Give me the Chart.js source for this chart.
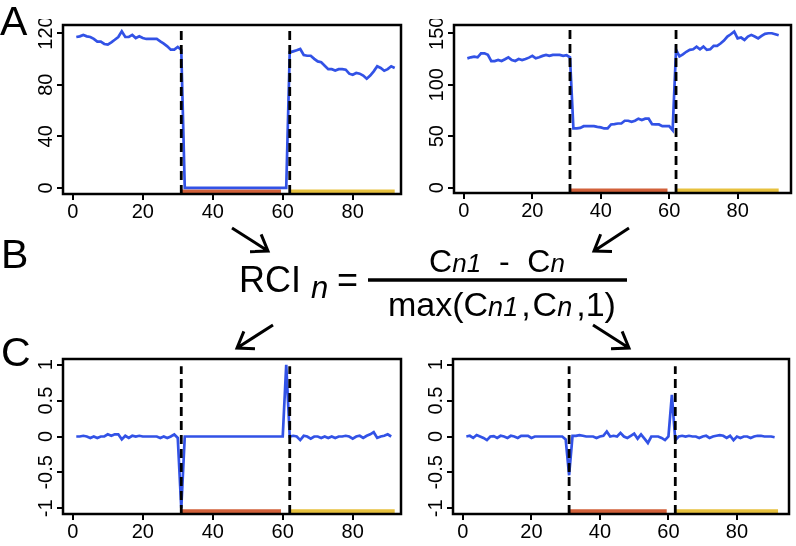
<!DOCTYPE html>
<html>
<head>
<meta charset="utf-8">
<script src="https://cdn.jsdelivr.net/npm/chart.js@4.4.0/dist/chart.umd.min.js"></script>
<style>
  html, body { margin: 0; padding: 0; background: #fff; }
  #page { position: relative; width: 796px; height: 546px; overflow: hidden; }
  canvas { position: absolute; }
  svg { position: absolute; left: 0; top: 0; }
  svg text { font-family: "Liberation Sans", Arial, sans-serif; fill: #000; }
</style>
</head>
<body>
<div id="page">
  <canvas id="aLeft"></canvas>
  <canvas id="aRight"></canvas>
  <canvas id="cLeft"></canvas>
  <canvas id="cRight"></canvas>
  <svg id="deco" width="796" height="546"></svg>
</div>
<script>
// ---- data ----
var days92 = Array.from({ length: 92 }, function (_, i) { return i + 1; });
var days91 = days92.slice(0, 91);

// A, left: counts per day
var countLeft = [
  116.9, 117.4, 118.5, 117.4, 116.9, 115.4, 113.3, 113.3, 111.5, 111, 112.8, 114.8, 116.9, 121.3, 116.9, 116.9,
  118.5, 116.1, 117.4, 116.1, 115.4, 115.4, 115.4, 115.4, 113.5, 111.7, 109.7, 107.1, 107.1, 109.2, 107,
  0, 0, 0, 0, 0, 0, 0, 0, 0, 0, 0, 0, 0, 0, 0, 0, 0, 0, 0, 0, 0, 0, 0, 0, 0, 0, 0, 0, 0, 0,
  105, 105.8, 106.6, 107.6, 103, 102.4, 102.4, 100, 98, 97.3, 94.7, 92, 92, 91, 92, 92,
  91.6, 88.5, 87.7, 89, 88.5, 87, 84.6, 87, 90.3, 94.2, 92.9, 90.8, 92, 94.2, 92.9
];
// A, right
var countRight = [
  125.6, 126.6, 127.3, 126.6, 130.5, 130.5, 129, 123, 123, 124, 123, 124.7, 126.6, 124, 123, 125,
  124, 125, 126.3, 128, 125.6, 126.6, 128, 129, 128, 129, 129, 129, 128, 128.6, 126.6,
  57.5, 57.5, 58, 59.7, 59.7, 59.7, 59.7, 59, 58.5, 57.5, 57.5, 61.4, 61.7, 62.3, 62.3,
  65, 65, 64, 65, 67, 65.6, 67, 67, 61.7, 61.4, 61.4, 59.7, 59.7, 59.7, 55.8,
  134, 127.5, 129.5, 132, 133.8, 134.4, 137, 134.4, 137, 133.8, 134.4, 137.7, 137.7, 140, 142.9, 146.8,
  149, 151.6, 145, 145.8, 143.5, 146.8, 148.4, 146.8, 145, 147.4, 149.4, 150, 150, 149, 148
];
// C, left: RCI
var rciLeft = [
  0, 0, 0.01, 0, -0.02, 0, -0.02, 0, 0, 0.03, 0.01, 0.03, 0.03, -0.04, 0.01, -0.02,
  0.01, 0, 0.01, 0, 0, 0, 0, 0, -0.02, 0, -0.02, 0, 0.03, -0.02, -1,
  0, 0, 0, 0, 0, 0, 0, 0, 0, 0, 0, 0, 0, 0, 0, 0, 0, 0, 0, 0, 0, 0, 0, 0, 0, 0, 0, 0, 0,
  1, 0, 0.01, 0, -0.05, 0.01, 0, -0.03, 0, 0, -0.02, 0, -0.02, 0, -0.02, 0,
  0, 0.01, 0, -0.03, 0, 0.01, -0.02, 0.01, 0.03, 0.06, -0.02, 0, 0.01, 0.03, 0
];
// C, right
var rciRight = [
  0, 0.01, -0.02, 0.02, 0, -0.02, -0.05, 0, 0.005, -0.02, 0.01, 0, -0.02, 0.01, 0, -0.02,
  0.01, 0.01, 0.01, -0.02, 0, 0, 0, 0, 0, 0, 0, 0, 0, -0.04, -0.54,
  0.01, 0.01, 0.02, 0.01, 0, 0, 0, -0.02, 0, 0.01, 0.07, 0, 0.01, 0, 0.05,
  0, -0.02, 0.01, 0.04, -0.03, 0.03, -0.03, -0.09, 0, 0, 0, -0.02, -0.05, 0,
  0.58, -0.05, 0, 0.01, 0, 0.01, 0, 0, -0.02, 0, 0.01, -0.02, 0, 0.01, 0.02, 0.01,
  -0.02, 0.01, -0.05, 0, -0.02, 0, 0, -0.02, 0, 0.01, 0.01, 0, 0, 0, -0.01
];

var switchDays = [31, 62];
var phaseTwo = [31, 59.5];
var phaseThree = [62, 92];
var xTicks = [0, 20, 40, 60, 80];
var yTicksLeftA = [0, 40, 80, 120];
var yTicksRightA = [0, 50, 100, 150];
var yTicksC = [-1, -0.5, 0, 0.5, 1];

var BLUE = "#3252e6", ORANGE = "#d2613a", YELLOW = "#e7c13e";
var TICK_FONT = { family: "'Liberation Sans'", size: 20 };

// box around plot area + rotated y labels, R style
var frame = {
  id: "frame",
  afterDraw: function (chart) {
    var ctx = chart.ctx, a = chart.chartArea, y = chart.scales.y;
    ctx.save();
    ctx.strokeStyle = "#000";
    ctx.lineWidth = 2.5;
    ctx.strokeRect(a.left, a.top, a.right - a.left, a.bottom - a.top);
    ctx.font = TICK_FONT.size + "px " + TICK_FONT.family;
    ctx.fillStyle = "#000";
    ctx.textAlign = "center";
    ctx.textBaseline = "alphabetic";
    y.ticks.forEach(function (t) {
      ctx.save();
      ctx.translate(a.left - 11, y.getPixelForValue(t.value));
      ctx.rotate(-Math.PI / 2);
      ctx.fillText(String(t.value), 0, 0);
      ctx.restore();
    });
    ctx.restore();
  }
};

function panel(id, box, p) {
  var ML = 55, MR = 6, MT = 6, MB = 34;
  var el = document.getElementById(id);
  el.style.left = (box[0] - ML) + "px";
  el.style.top = (box[1] - MT) + "px";
  el.width = box[2] - box[0] + ML + MR;
  el.height = box[3] - box[1] + MT + MB;

  var sets = [];
  switchDays.forEach(function (d) {
    sets.push({ data: [{ x: d, y: p.yMin }, { x: d, y: p.dashTop }], borderColor: "#000",
      borderWidth: 2.8, borderDash: [9, 5], pointRadius: 0, clip: 0 });
  });
  sets.push({ data: p.values, borderColor: BLUE, borderWidth: 2.7, pointRadius: 0, tension: 0 });
  sets.push({ data: phaseTwo.map(function (x) { return { x: x, y: p.barY }; }), borderColor: ORANGE,
    borderWidth: 4, pointRadius: 0 });
  sets.push({ data: phaseThree.map(function (x) { return { x: x, y: p.barY }; }), borderColor: YELLOW,
    borderWidth: 4, pointRadius: 0 });

  return new Chart(el, {
    type: "line",
    data: { labels: p.labels, datasets: sets },
    plugins: [frame],
    options: {
      responsive: false, animation: false, devicePixelRatio: 1,
      layout: { padding: { top: MT, right: MR, left: 0, bottom: 0 } },
      plugins: { legend: { display: false }, tooltip: { enabled: false } },
      scales: {
        x: {
          type: "linear", min: p.xMin, max: p.xMax,
          afterFit: function (s) { s.height = MB; },
          afterBuildTicks: function (s) { s.ticks = xTicks.map(function (v) { return { value: v }; }); },
          grid: { drawOnChartArea: false, drawTicks: true, tickLength: 6, color: "#000", lineWidth: 2 },
          border: { display: false },
          ticks: { color: "#000", font: TICK_FONT, padding: 0, maxRotation: 0, autoSkip: false }
        },
        y: {
          type: "linear", min: p.yMin, max: p.yMax,
          afterFit: function (s) { s.width = ML; },
          afterBuildTicks: function (s) { s.ticks = p.yTicks.map(function (v) { return { value: v }; }); },
          grid: { drawOnChartArea: false, drawTicks: true, tickLength: 6, color: "#000", lineWidth: 2 },
          border: { display: false },
          ticks: { display: false }
        }
      }
    }
  });
}

panel("aLeft", [63, 25, 401, 194], { labels: days92, values: countLeft, xMin: -2.8, xMax: 93.8,
  yMin: -4.7, yMax: 126.2, yTicks: yTicksLeftA, dashTop: 126.2, barY: -2.7 });
panel("aRight", [454, 25, 791, 193], { labels: days92, values: countRight, xMin: -2.9, xMax: 95.6,
  yMin: -5.2, yMax: 158, yTicks: yTicksRightA, dashTop: 158, barY: -2.8 });
panel("cLeft", [63, 359, 401, 514], { labels: days91, values: rciLeft, xMin: -2.8, xMax: 93.8,
  yMin: -1.08, yMax: 1.08, yTicks: yTicksC, dashTop: 0.98, barY: -1.04 });
panel("cRight", [453, 359, 789, 514], { labels: days91, values: rciRight, xMin: -2.9, xMax: 95.2,
  yMin: -1.08, yMax: 1.08, yTicks: yTicksC, dashTop: 0.98, barY: -1.04 });

// ---- letters, formula, arrows ----
var NS = "http://www.w3.org/2000/svg";
var svg = document.getElementById("deco");
function arrow(x1, y1, x2, y2) {
  var dx = x2 - x1, dy = y2 - y1, len = Math.sqrt(dx * dx + dy * dy);
  var ux = -dx / len, uy = -dy / len, h = 18, t = 35 * Math.PI / 180;
  var c = Math.cos(t), s = Math.sin(t);
  var a1 = [x2 + h * (ux * c - uy * s), y2 + h * (ux * s + uy * c)];
  var a2 = [x2 + h * (ux * c + uy * s), y2 + h * (-ux * s + uy * c)];
  var path = document.createElementNS(NS, "path");
  path.setAttribute("d", "M" + x1 + "," + y1 + " L" + x2 + "," + y2 +
    " M" + a1[0] + "," + a1[1] + " L" + x2 + "," + y2 + " L" + a2[0] + "," + a2[1]);
  path.setAttribute("stroke", "#000");
  path.setAttribute("stroke-width", "3");
  path.setAttribute("fill", "none");
  svg.appendChild(path);
}
arrow(232, 228, 268, 251);
arrow(629, 228, 594, 251);
arrow(273, 325, 237, 348);
arrow(593, 325, 629, 348);

var sub = 'font-style="italic" font-size="27"';
svg.insertAdjacentHTML("beforeend",
  '<text x="0" y="35" font-size="41">A</text>' +
  '<text x="1" y="268" font-size="41">B</text>' +
  '<text x="1" y="366" font-size="41">C</text>' +
  '<text x="239" y="292" font-size="36">RCI<tspan font-style="italic" font-size="31" dx="10" dy="6">n</tspan></text>' +
  '<text x="337" y="292" font-size="36">=</text>' +
  '<line x1="368" y1="280" x2="627" y2="280" stroke="#000" stroke-width="3.5"/>' +
  '<text x="497" y="272" font-size="32" text-anchor="middle" xml:space="preserve">C<tspan font-style="italic" font-size="26">n1</tspan>  -  C<tspan font-style="italic" font-size="26">n</tspan></text>' +
  '<text x="388" y="316" font-size="34">max(C<tspan ' + sub + '>n1</tspan><tspan dx="3">,</tspan><tspan dx="2">C</tspan><tspan ' + sub + '>n</tspan><tspan dx="4">,</tspan>1)</text>'
);
</script>
</body>
</html>
